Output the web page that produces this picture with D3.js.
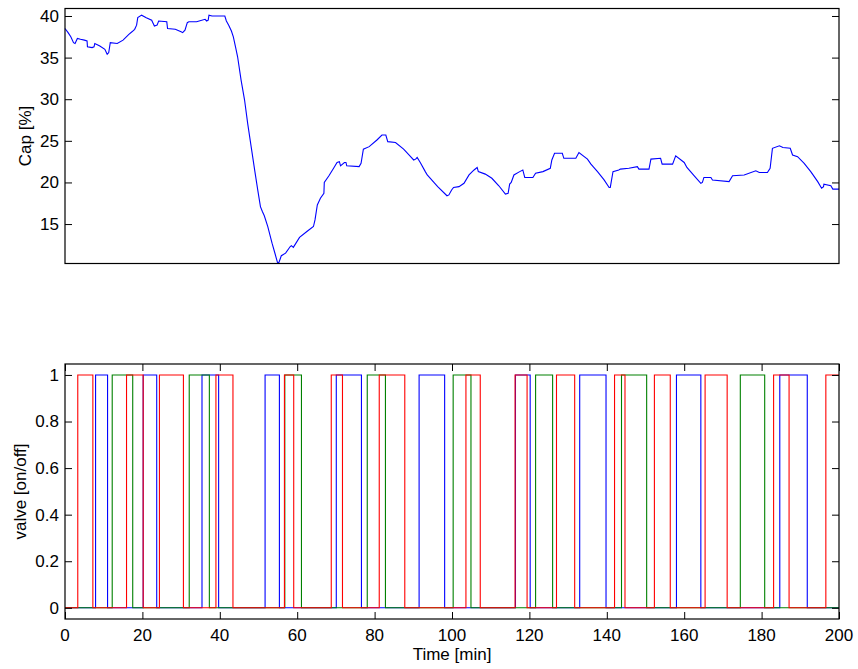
<!DOCTYPE html>
<html>
<head>
<meta charset="utf-8">
<script src="https://cdn.jsdelivr.net/npm/d3@7/dist/d3.min.js"></script>
<style>
  html, body { margin: 0; padding: 0; background: #fff; }
  svg { display: block; }
  text { font-family: "Liberation Sans", Arial, Helvetica, sans-serif; fill: #000; }
</style>
</head>
<body>
<svg id="chart" width="858" height="669"></svg>
<script>
// Capacity trace [%] over time [min]
const capTime = [0, 0.8, 1.5, 2.2, 2.6, 3.2, 4.0, 5.0, 5.7, 5.8, 7.0, 7.5, 7.7, 9.0, 10.3, 10.9, 11.3, 11.7, 13.5, 15.0,
  16.5, 17.3, 18.0, 18.5, 18.8, 19.8, 21.0, 22.4, 22.7, 23.1, 23.8, 24.2, 26.3, 26.5, 28.5, 30.0, 30.4, 31.0, 31.6, 32.0,
  34.0, 36.2, 36.6, 37.0, 37.2, 38.0, 41.3, 41.7, 42.3, 43.0, 43.5, 44.1, 44.6, 45.5, 46.4, 47.2, 48.1, 49.0, 49.8, 50.5,
  51.0, 51.5, 52.4, 53.5, 54.3, 54.9, 55.2, 55.6, 55.9, 57.0, 58.2, 58.5, 59.0, 60.6, 62.5, 64.2, 64.6, 65.2, 66.0, 66.9,
  67.0, 68.2, 69.4, 70.3, 70.9, 71.2, 72.2, 72.6, 72.8, 76.0, 76.5, 77.1, 78.6, 80.6, 81.9, 82.9, 83.4, 85.4, 87.5, 89.3,
  90.1, 90.6, 91.0, 91.8, 93.1, 93.6, 96.3, 98.7, 99.2, 99.9, 100.4, 101.8, 103.1, 104.4, 105.7, 106.5, 106.8, 108.6, 110.3, 112.1,
  113.8, 114.5, 114.9, 115.3, 116.0, 117.5, 118.3, 118.8, 120.9, 121.6, 123.5, 125.4, 125.8, 126.5, 128.5, 128.9, 132.0, 132.8, 135.0, 135.9,
  137.6, 139.3, 140.6, 140.9, 141.6, 143.1, 143.5, 145.7, 147.9, 148.3, 150.9, 151.4, 153.9, 154.3, 157.0, 157.8, 160.0, 160.7, 162.6, 164.3,
  164.7, 165.1, 166.9, 167.3, 171.6, 172.5, 175.5, 178.5, 179.4, 181.5, 182.2, 182.8, 184.6, 185.5, 187.4, 188.0, 189.3, 191.0, 192.7, 194.5,
  195.5, 196.0, 196.1, 197.9, 198.4, 200.0];
const capValue = [38.5, 38.0, 37.5, 36.8, 36.7, 37.3, 37.2, 37.1, 37.0, 36.3, 36.2, 36.3, 36.7, 36.4, 36.0, 35.4, 35.6, 36.8, 36.7, 37.1,
  37.8, 38.1, 38.4, 38.9, 39.8, 40.1, 39.8, 39.5, 39.2, 38.8, 38.9, 39.4, 39.3, 38.5, 38.4, 38.1, 38.0, 38.3, 39.2, 39.3,
  39.3, 39.6, 39.4, 39.5, 40.1, 40.0, 40.0, 39.4, 38.9, 38.2, 37.5, 36.2, 35.1, 32.3, 29.9, 27.1, 24.3, 21.5, 19.1, 17.1,
  16.5, 16.0, 14.7, 12.7, 11.4, 10.4, 10.3, 10.8, 11.2, 11.5, 12.3, 12.4, 12.2, 13.4, 14.1, 14.7, 15.5, 17.3, 18.1, 18.7,
  20.0, 20.8, 21.7, 22.4, 22.5, 22.0, 22.4, 22.4, 22.0, 21.9, 22.3, 24.0, 24.3, 25.1, 25.7, 25.7, 24.9, 24.8, 24.0, 23.1,
  22.7, 22.8, 23.0, 22.4, 21.3, 20.9, 19.5, 18.4, 18.5, 19.1, 19.4, 19.5, 19.9, 20.9, 21.5, 21.8, 21.3, 21.0, 20.5, 19.6,
  18.6, 18.7, 19.8, 20.0, 20.9, 21.3, 21.5, 20.6, 20.6, 21.1, 21.3, 21.7, 22.7, 23.5, 23.5, 22.9, 22.9, 23.6, 22.8, 22.2,
  21.3, 20.3, 19.4, 19.4, 21.3, 21.5, 21.6, 21.7, 21.9, 21.6, 21.6, 22.8, 22.9, 22.2, 22.2, 23.2, 22.4, 21.8, 20.8, 19.9,
  20.0, 20.6, 20.6, 20.3, 20.1, 20.8, 20.9, 21.4, 21.2, 21.2, 21.7, 24.1, 24.4, 24.2, 24.1, 23.3, 23.1, 22.3, 21.3, 20.1,
  19.3, 19.5, 19.8, 19.6, 19.2, 19.2];

// Valve open intervals [start, end] in minutes
const valveBlueOn = [[7.9, 11.0], [20.2, 23.7], [35.4, 39.7], [51.7, 55.4], [70.1, 76.6], [91.5, 98.1],
  [116.4, 120.2], [133.0, 139.8], [158.0, 164.3], [184.7, 191.8]];
const valveGreenOn = [[12.2, 17.5], [32.1, 37.3], [56.8, 61.1], [78.1, 82.8], [100.3, 104.9], [121.6, 126.0],
  [143.8, 150.3], [174.5, 180.8]];
const valveRedOn = [[3.3, 7.2], [15.9, 20.2], [24.4, 30.6], [39.0, 43.4], [56.7, 59.1], [68.8, 71.7], [81.2, 87.8],
  [103.6, 107.3], [116.3, 119.4], [127.0, 131.7], [142.0, 144.7], [152.3, 156.4], [165.4, 171.1], [183.1, 187.1], [196.6, 200]];

const timeTicks = [0, 20, 40, 60, 80, 100, 120, 140, 160, 180, 200];
const capTicks = [15, 20, 25, 30, 35, 40];
const valveTicks = [0, 0.2, 0.4, 0.6, 0.8, 1];

const svg = d3.select("#chart");
const left = 65, right = 839;
const tickLen = 7;
const fontSize = 17;

const x = d3.scaleLinear().domain([0, 200]).range([left, right]);

// Build a 0/1 step series from open intervals
function stepSeries(intervals) {
  const pts = [[0, 0]];
  intervals.forEach(([a, b]) => {
    pts.push([a, 0], [a, 1], [b, 1]);
    if (b < 200) pts.push([b, 0]);
  });
  const last = pts[pts.length - 1];
  if (last[0] < 200) pts.push([200, last[1]]);
  return pts;
}

function drawBox(g, top, bottom) {
  g.append("rect")
    .attr("x", left).attr("y", top)
    .attr("width", right - left).attr("height", bottom - top)
    .attr("fill", "none").attr("stroke", "#000").attr("stroke-width", 1.2);
}

// ---------- Upper panel: capacity ----------
const top1 = 8.5, bottom1 = 263.5;
const y1 = d3.scaleLinear().domain([10.26, 40.9]).range([bottom1, top1]);
const g1 = svg.append("g");

g1.append("path")
  .datum(capTime.map((t, i) => [t, capValue[i]]))
  .attr("fill", "none")
  .attr("stroke", "#0000ff")
  .attr("stroke-width", 1.1)
  .attr("d", d3.line().x(d => x(d[0])).y(d => y1(d[1])));

// inward ticks on left and right
const capAxisL = d3.axisRight(y1).tickValues(capTicks).tickSize(tickLen).tickFormat("");
const capAxisR = d3.axisLeft(y1).tickValues(capTicks).tickSize(tickLen).tickFormat("");
g1.append("g").attr("transform", `translate(${left},0)`).call(capAxisL);
g1.append("g").attr("transform", `translate(${right},0)`).call(capAxisR);
g1.selectAll(".domain").remove();
g1.selectAll(".tick line").attr("stroke", "#000");

g1.selectAll("text.ylab")
  .data(capTicks).enter().append("text")
  .attr("class", "ylab")
  .attr("x", left - 6).attr("y", d => y1(d))
  .attr("dy", "0.35em")
  .attr("text-anchor", "end")
  .style("font-size", fontSize + "px")
  .text(d => d);

drawBox(g1, top1, bottom1);

g1.append("text")
  .attr("transform", `translate(31,${(top1 + bottom1) / 2}) rotate(-90)`)
  .attr("text-anchor", "middle")
  .style("font-size", fontSize + "px")
  .text("Cap [%]");

// ---------- Lower panel: valve states ----------
const top2 = 364, bottom2 = 619;
const y2 = d3.scaleLinear().domain([-0.048, 1.047]).range([bottom2, top2]);
const g2 = svg.append("g");

const stepLine = d3.line().x(d => x(d[0])).y(d => y2(d[1]));
const valves = [
  { on: valveBlueOn, color: "#0000ff" },
  { on: valveGreenOn, color: "#008000" },
  { on: valveRedOn, color: "#ff0000" }
];
g2.selectAll("path.valve")
  .data(valves).enter().append("path")
  .attr("class", "valve")
  .attr("fill", "none")
  .attr("stroke", d => d.color)
  .attr("stroke-width", 1.1)
  .attr("d", d => stepLine(stepSeries(d.on)));

const vAxisL = d3.axisRight(y2).tickValues(valveTicks).tickSize(tickLen).tickFormat("");
const vAxisR = d3.axisLeft(y2).tickValues(valveTicks).tickSize(tickLen).tickFormat("");
const tAxisB = d3.axisTop(x).tickValues(timeTicks).tickSize(tickLen).tickFormat("");
const tAxisT = d3.axisBottom(x).tickValues(timeTicks).tickSize(tickLen).tickFormat("");
g2.append("g").attr("transform", `translate(${left},0)`).call(vAxisL);
g2.append("g").attr("transform", `translate(${right},0)`).call(vAxisR);
g2.append("g").attr("transform", `translate(0,${bottom2})`).call(tAxisB);
g2.append("g").attr("transform", `translate(0,${top2})`).call(tAxisT);
g2.selectAll(".domain").remove();
g2.selectAll(".tick line").attr("stroke", "#000");

g2.selectAll("text.ylab")
  .data(valveTicks).enter().append("text")
  .attr("class", "ylab")
  .attr("x", left - 6).attr("y", d => y2(d))
  .attr("dy", "0.35em")
  .attr("text-anchor", "end")
  .style("font-size", fontSize + "px")
  .text(d => d);

g2.selectAll("text.xlab")
  .data(timeTicks).enter().append("text")
  .attr("class", "xlab")
  .attr("x", d => x(d)).attr("y", 641)
  .attr("text-anchor", "middle")
  .style("font-size", fontSize + "px")
  .text(d => d);

drawBox(g2, top2, bottom2);

g2.append("text")
  .attr("x", (left + right) / 2).attr("y", 660)
  .attr("text-anchor", "middle")
  .style("font-size", fontSize + "px")
  .text("Time [min]");

g2.append("text")
  .attr("transform", `translate(26,${(top2 + bottom2) / 2}) rotate(-90)`)
  .attr("text-anchor", "middle")
  .style("font-size", fontSize + "px")
  .text("valve [on/off]");
</script>
</body>
</html>
